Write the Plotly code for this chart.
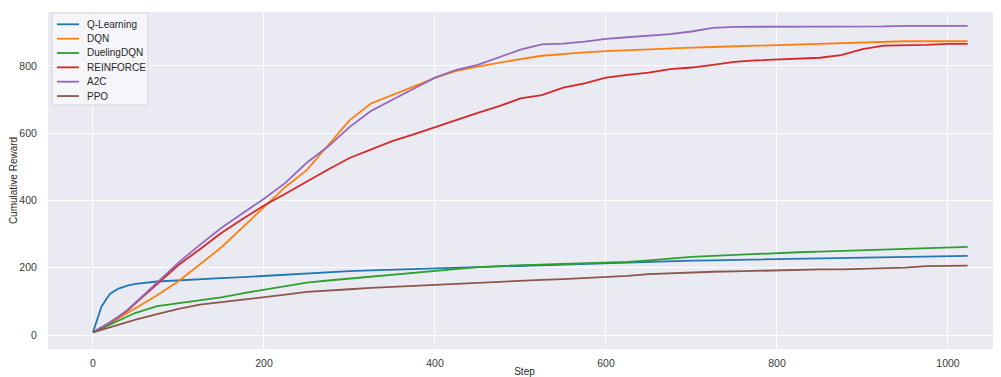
import plotly.graph_objects as go

steps = [0, 5, 10, 20, 30, 40, 50, 75, 100, 125, 150, 175, 200, 225, 250, 275, 300,
         325, 350, 375, 400, 425, 450, 475, 500, 525, 550, 575, 600, 625, 650, 675,
         700, 725, 750, 775, 800, 825, 850, 875, 900, 925, 950, 975, 1000, 1023]

q_learning = [8, 50, 85, 123, 138, 147, 152, 159, 163, 166, 169, 172, 176, 179, 183, 186, 190,
              192, 194, 196, 198, 200, 203, 205, 207, 209, 211, 213, 215, 216, 218, 220,
              221, 222, 223, 225, 226, 227, 229, 230, 231, 232, 233, 234, 234, 235]

dqn = [8, 14, 20, 33, 50, 65, 80, 118, 160, 210, 260, 320, 380, 440, 490, 565, 638,
       688, 712, 738, 764, 785, 798, 810, 820, 830, 836, 840, 844, 847, 850, 852,
       854, 856, 858, 860, 862, 864, 866, 869, 871, 872, 873, 873, 873, 873]

dueling_dqn = [8, 14, 20, 32, 44, 56, 66, 86, 94, 104, 112, 124, 134, 146, 156, 162, 168,
               174, 180, 185, 190, 198, 202, 205, 207, 209, 211, 213, 215, 217, 222, 228,
               232, 235, 238, 241, 245, 246, 248, 250, 252, 254, 256, 258, 259, 262]

reinforce = [8, 15, 22, 37, 54, 72, 95, 152, 208, 255, 303, 345, 385, 420, 457, 492, 526,
             551, 576, 596, 618, 640, 660, 680, 703, 713, 735, 748, 765, 773, 780, 790,
             795, 803, 812, 816, 819, 822, 824, 832, 850, 860, 860, 862, 865, 865]

a2c = [8, 15, 22, 38, 55, 74, 97, 157, 215, 268, 318, 362, 405, 452, 512, 560, 618,
       666, 698, 732, 765, 788, 803, 825, 848, 864, 866, 872, 880, 885, 889, 894,
       902, 913, 916, 916, 916, 916, 916, 916, 916, 917, 919, 919, 919, 919]

ppo = [8, 12, 16, 24, 32, 40, 46, 62, 78, 90, 97, 104, 112, 120, 128, 133, 136,
       140, 143, 147, 151, 154, 157, 159, 161, 164, 166, 169, 172, 176, 181, 184,
       186, 188, 189, 191, 193, 194, 195, 195, 197, 199, 200, 205, 205, 206]

series_names = ["Q-Learning", "DQN", "DuelingDQN", "REINFORCE", "A2C", "PPO"]
series_values = [q_learning, dqn, dueling_dqn, reinforce, a2c, ppo]
colors = ["#1f77b4", "#ff7f0e", "#2ca02c", "#d62728", "#9467bd", "#8c564b"]

x_ticks = [0, 200, 400, 600, 800, 1000]
y_ticks = [0, 200, 400, 600, 800]

OFF = 8  # default page margin around the plot
W, H = 1001 - OFF, 377 - OFF
ML, MR, MT, MB = 48 - OFF, 0, 12 - OFF, 28
PW, PH = W - ML - MR, H - MT - MB


def px_x(p):
    return (p - OFF - ML) / PW


def px_y(p):
    return (H - MB - (p - OFF)) / PH


fig = go.Figure()
for name, vals, col in zip(series_names, series_values, colors):
    fig.add_trace(go.Scatter(x=steps, y=vals, mode="lines", name=name,
                             line=dict(color=col, width=1.8), showlegend=False))

# legend box (drawn in paper coordinates)
shapes = [dict(type="rect", xref="paper", yref="paper",
               x0=px_x(52), x1=px_x(148), y0=px_y(105), y1=px_y(13),
               fillcolor="rgba(248,248,251,0.85)", line=dict(color="#D5D5DD", width=1),
               layer="above")]
annotations = []
for i, (name, col) in enumerate(zip(series_names, colors)):
    yy = 24.3 + 14.35 * i
    shapes.append(dict(type="line", xref="paper", yref="paper",
                       x0=px_x(57), x1=px_x(79), y0=px_y(yy), y1=px_y(yy),
                       line=dict(color=col, width=1.8), layer="above"))
    annotations.append(dict(xref="paper", yref="paper", x=px_x(85), y=px_y(yy),
                            xanchor="left", yanchor="middle", text=name, showarrow=False,
                            font=dict(size=10, color="#262626")))

font_family = "Liberation Sans, Arial, sans-serif"
fig.update_layout(
    width=W, height=H,
    margin=dict(l=ML, r=MR, t=MT, b=MB),
    paper_bgcolor="white",
    plot_bgcolor="#EAEAF2",
    font=dict(family=font_family, size=10, color="#3a3a3a"),
    showlegend=False,
    shapes=shapes,
    annotations=annotations,
    xaxis=dict(range=[-52.6, 1062], tickvals=x_ticks, showgrid=True, gridcolor="white",
               gridwidth=1, zeroline=False, showline=False, ticks="outside", ticklen=4,
               tickcolor="rgba(0,0,0,0)", automargin=False,
               tickfont=dict(size=10.5),
               title=dict(text="Step", standoff=0, font=dict(size=10, color="#262626"))),
    yaxis=dict(range=[-41.6, 960], tickvals=y_ticks, showgrid=True, gridcolor="white",
               gridwidth=1, zeroline=False, showline=False, ticks="outside", ticklen=8,
               tickcolor="rgba(0,0,0,0)", automargin=False,
               tickfont=dict(size=10.5),
               title=dict(text="Cumulative Reward", standoff=4, font=dict(size=10, color="#262626"))),
)

fig.write_html("out.html")
